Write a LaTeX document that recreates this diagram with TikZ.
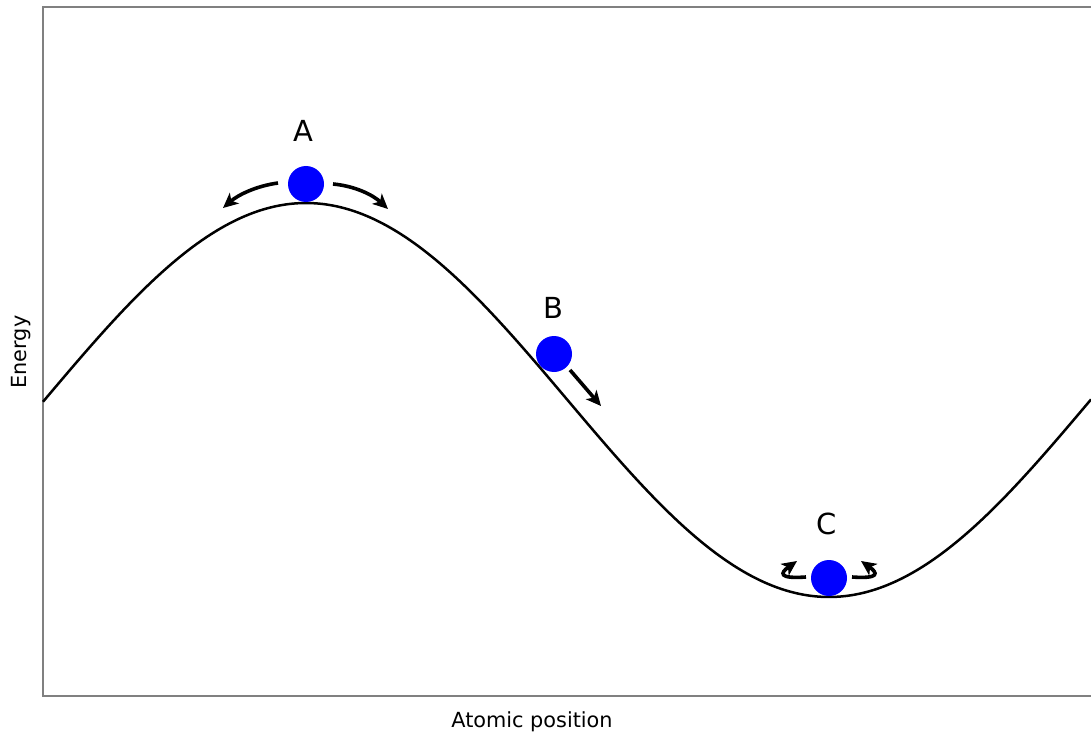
\documentclass[tikz,border=0pt]{standalone}
\usepackage{fontspec}
\setmainfont{DejaVu Sans}
\usetikzlibrary{arrows.meta}
\begin{document}
\begin{tikzpicture}[x=1pt,y=-1pt,
  ball/.style={circle,fill=blue,draw=none,minimum size=36pt,inner sep=0pt},
  lbl/.style={font=\fontsize{29}{33}\selectfont,inner sep=0pt},
  axlbl/.style={font=\fontsize{20.8}{24}\selectfont,inner sep=0pt},
  frame/.style={draw={rgb,255:red,128;green,128;blue,128},line width=1.5pt},
  mov/.style={line width=3.6pt,-{Stealth[length=15pt,width=14pt,inset=4pt]}}]
\useasboundingbox (0,0) rectangle (1091,735);
% frame
\draw[frame] (1091,7) -- (43,7) -- (43,696) -- (1091,696);
% curve
\draw[line width=2.5pt] plot[domain=43:1091,samples=300,smooth] (\x,{400-197*cos(0.344168*(\x-306))});
% balls
\node[ball] (A) at (306,184) {};
\node[ball] (B) at (554,354) {};
\node[ball] (C) at (829,578) {};
% labels
\node[lbl] (lA) at (303,131) {A};
\node[lbl] (lB) at (553,308) {B};
\node[lbl] (lC) at (827,524) {C};
\node[axlbl] (xl) at (532,722) {Atomic position};
\node[axlbl,rotate=90] (yl) at (21,352) {Energy};
% arrow ends
\coordinate (a1s) at (278,183);
\coordinate (a1e) at (223,208);
\coordinate (a2s) at (333,184);
\coordinate (a2e) at (388,209);
\coordinate (bs) at (570,370);
\coordinate (be) at (601,406);
\coordinate (c1s) at (806,577);
\coordinate (c1e) at (797,561);
\coordinate (c2s) at (852,577);
\coordinate (c2e) at (861,561);
\draw[mov] (a1s) .. controls (256,186) and (238,195) .. (a1e);
\draw[mov] (a2s) .. controls (355,186) and (373,195) .. (a2e);
\draw[mov] (bs) -- (be);
\draw[mov] (c1s) .. controls (778,579) and (780,573) .. (c1e);
\draw[mov] (c2s) .. controls (880,579) and (878,573) .. (c2e);
\end{tikzpicture}
\end{document}
